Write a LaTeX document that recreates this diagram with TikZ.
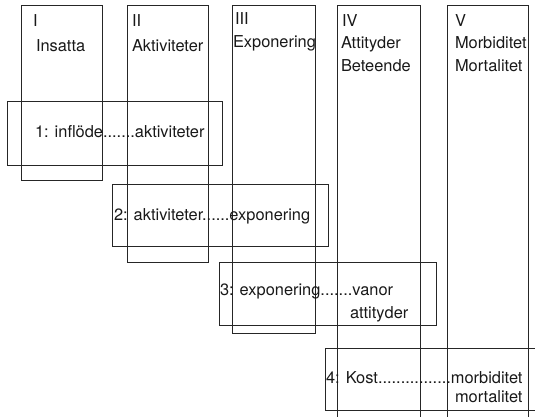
\documentclass[tikz,border=0pt]{standalone}
\usepackage{fontspec}
\setmainfont{TeX Gyre Heros}
\begin{document}
\begin{tikzpicture}[x=1pt,y=-1pt,
  frame/.style={draw=black!85,line width=0.6pt},
  lbl/.style={anchor=base west,inner sep=0pt,outer sep=0pt,font=\fontsize{16.4}{19}\selectfont,text=black!90}]
\useasboundingbox (0,0) rectangle (535,417);
% columns
\draw[frame] (21,5) rectangle (102,180);
\draw[frame] (127,5) rectangle (208,262);
\draw[frame] (232,5) rectangle (315,333);
\draw[frame] (337,5) rectangle (420,425);
\draw[frame] (447,5) rectangle (528,425);
% rows
\draw[frame] (7,101) rectangle (222,165);
\draw[frame] (112,184) rectangle (328,246);
\draw[frame] (219,262) rectangle (436,325);
\draw[frame] (325,348) rectangle (545,410);
% column headings
\node[lbl] (h1a) at (33,27) {I};
\node[lbl] (h1b) at (36,52) {Insatta};
\node[lbl] (h2a) at (132,27) {II};
\node[lbl] (h2b) at (132,52) {Aktiviteter};
\node[lbl] (h3a) at (235,25) {III};
\node[lbl] (h3b) at (233,48) {Exponering};
\node[lbl] (h4a) at (342,27) {IV};
\node[lbl] (h4b) at (341,49) {Attityder};
\node[lbl] (h4c) at (341,72) {Beteende};
\node[lbl] (h5a) at (455,27) {V};
\node[lbl] (h5b) at (455,49) {Morbiditet};
\node[lbl] (h5c) at (455,72) {Mortalitet};
% row texts
\node[lbl] (r1) at (35,138) {1: inflöde.......aktiviteter};
\node[lbl] (r2) at (114,220) {2: aktiviteter......exponering};
\node[lbl] (r3a) at (220,295) {3: exponering.......vanor};
\node[lbl] (r3b) at (350,318) {attityder};
\node[lbl] (r4a) at (326,383) {4: Kost................morbiditet};
\node[lbl] (r4b) at (455,402) {mortalitet};
\end{tikzpicture}
\end{document}
